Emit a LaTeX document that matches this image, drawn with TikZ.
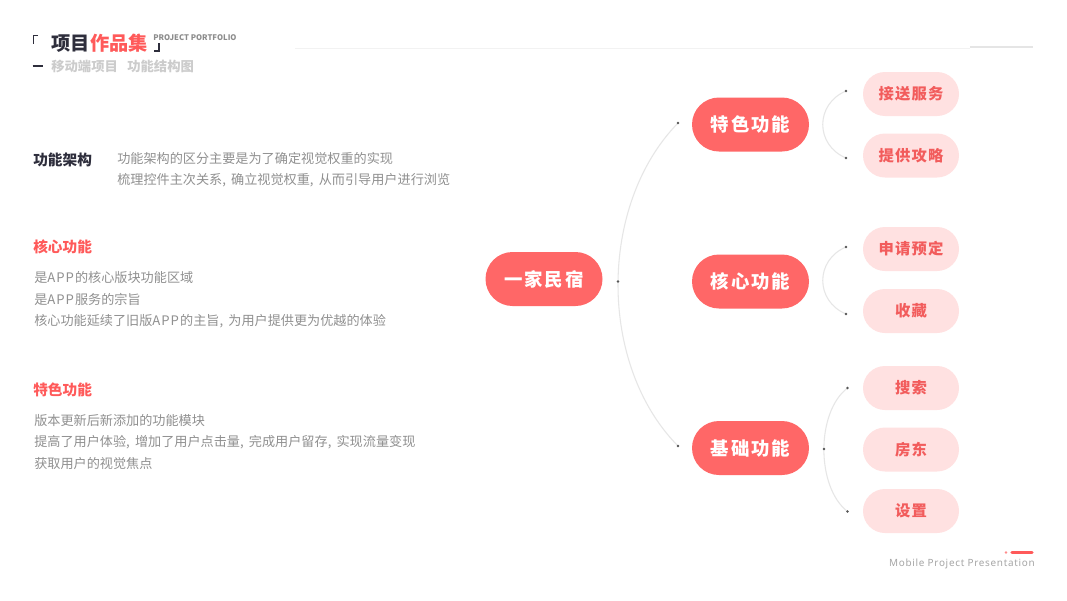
\documentclass[tikz,border=0pt]{standalone}
\usepackage{fontspec}
\setmainfont{Noto Sans CJK SC}
\newfontfamily\cjkls{Noto Sans CJK SC}[LetterSpace=10]
\newfontfamily\cjklss{Noto Sans CJK SC}[LetterSpace=8]
\newfontfamily\latinls{Noto Sans}[LetterSpace=7]
\newcommand\sepc{,\hspace{3.9pt}}
\newcommand\appw{A\kern0.7pt P\kern0.7pt P\kern0.9pt}
\definecolor{mainred}{HTML}{FF6767}
\definecolor{pinkfill}{HTML}{FFE1E1}
\definecolor{pinktext}{HTML}{F25C5C}
\definecolor{titledark}{HTML}{2E2E3C}
\definecolor{bodygrey}{HTML}{909090}
\definecolor{subgrey}{HTML}{CCCCCC}
\definecolor{arcgrey}{HTML}{E6E6E6}
\definecolor{dotgrey}{HTML}{555555}
\definecolor{headred}{HTML}{FF5A5A}
\tikzset{
  rootpill/.style={fill=mainred, text=white, inner sep=0pt,
    minimum width=117*0.75pt, minimum height=54*0.75pt, rounded corners=27*0.75pt,
    font=\cjkls\bfseries\fontsize{13.8pt}{15pt}\selectfont},
  lvlpill/.style={rootpill},
  subpill/.style={fill=pinkfill, text=pinktext, inner sep=0pt,
    minimum width=96*0.75pt, minimum height=44*0.75pt, rounded corners=22*0.75pt,
    font=\cjklss\bfseries\fontsize{11.5pt}{13pt}\selectfont},
  arcline/.style={draw=arcgrey, line width=0.8pt},
  dotmark/.style={circle, fill=dotgrey, inner sep=0pt, minimum size=2.2pt},
  bodytext/.style={anchor=west, inner sep=0pt, text=bodygrey, font=\fontsize{9.85pt}{11pt}\selectfont},
  headtext/.style={anchor=west, inner sep=0pt, font=\bfseries\fontsize{11pt}{12pt}\selectfont},
}
\begin{document}
\begin{tikzpicture}[x=0.75pt, y=-0.75pt]
\useasboundingbox (0,0) rectangle (1067,600);
\fill[white] (0,0) rectangle (1067,600);

% top line
\coordinate (tl1) at (295,48);
\coordinate (tl2) at (970,48);
\coordinate (tl3) at (1033,47);
\draw[draw=black!5, line width=0.6pt] (tl1) -- (tl2);
\draw[draw=black!10, line width=1.2pt] (tl2 |- tl3) -- (tl3);

% title brackets
\coordinate (b1a) at (38,35.5);
\coordinate (b1b) at (33.5,35.5);
\coordinate (b1c) at (33.5,44);
\draw[titledark, line width=1.3pt] (b1a) -- (b1b) -- (b1c);
\coordinate (b2a) at (159,43);
\coordinate (b2b) at (159,51);
\coordinate (b2c) at (153.5,51);
\draw[titledark, line width=1.3pt] (b2a) -- (b2b) -- (b2c);
\coordinate (dsa) at (32.5,66);
\coordinate (dsb) at (43,66);
\draw[titledark, line width=1.6pt] (dsa) -- (dsb);

\node[anchor=west, inner sep=0pt, font=\bfseries\fontsize{14.4pt}{15pt}\selectfont] (title) at (51.5,43.5)
  {\textcolor{titledark}{项目}\textcolor{headred}{作品集}};
\node[anchor=west, inner sep=0pt, text=black!45, font=\bfseries\fontsize{5.8pt}{6pt}\selectfont] (portfolio) at (153,37.5) {PROJECT PORTFOLIO};
\node[anchor=west, inner sep=0pt, text=subgrey, font=\bfseries\fontsize{10pt}{11pt}\selectfont] (subtitle) at (51,66)
  {移动端项目\hspace{7pt}功能结构图};

% left text
\node[headtext, text=titledark] (h1) at (33,159.5) {功能架构};
\node[bodytext] (t11) at (117,158) {功能架构的区分主要是为了确定视觉权重的实现};
\node[bodytext] (t12) at (117,180) {梳理控件主次关系\sepc 确立视觉权重\sepc 从而引导用户进行浏览};

\node[headtext, text=headred] (h2) at (33,247) {核心功能};
\node[bodytext] (t21) at (34,278) {是\appw 的核心版块功能区域};
\node[bodytext] (t22) at (34,299) {是\appw 服务的宗旨};
\node[bodytext] (t23) at (34,321) {核心功能延续了旧版\appw 的主旨\sepc 为用户提供更为优越的体验};

\node[headtext, text=headred] (h3) at (33,390) {特色功能};
\node[bodytext] (t31) at (34,421) {版本更新后新添加的功能模块};
\node[bodytext] (t32) at (34,442) {提高了用户体验\sepc 增加了用户点击量\sepc 完成用户留存\sepc 实现流量变现};
\node[bodytext] (t33) at (34,464) {获取用户的视觉焦点};

% mind map
\node[rootpill] (root) at (544,279) {一家民宿};
\node[lvlpill] (l1) at (750.5,124.5) {特色功能};
\node[lvlpill] (l2) at (750.5,281.5) {核心功能};
\node[lvlpill] (l3) at (750.5,448) {基础功能};

\node[subpill] (s11) at (911,94) {接送服务};
\node[subpill] (s12) at (911,155.5) {提供攻略};
\node[subpill] (s21) at (911,249) {申请预定};
\node[subpill] (s22) at (911,311) {收藏};
\node[subpill] (s31) at (911,388) {搜索};
\node[subpill] (s32) at (911,449.5) {房东};
\node[subpill] (s33) at (911,511) {设置};

% big arc
\coordinate (dA) at (678,123);
\coordinate (dB) at (678,446);
\coordinate (dR) at (618,281.5);
\draw[arcline] (dA) .. controls (598,205) and (598,365) .. (dB);

% sub arcs
\coordinate (d11) at (846,91);
\coordinate (d12) at (846,158);
\draw[arcline] (d11) .. controls (815,104) and (815,145) .. (d12);
\coordinate (d21) at (846,247);
\coordinate (d22) at (846,314);
\draw[arcline] (d21) .. controls (815,260) and (815,301) .. (d22);
\coordinate (d31) at (847.5,388);
\coordinate (d33) at (847.5,511.5);
\coordinate (dM) at (824,449);
\draw[arcline] (d31) .. controls (816,412) and (816,487) .. (d33);

% dots
\foreach \c in {dA,dB,dR,d11,d12,d21,d22,d31,d33,dM}{
  \node[dotmark] at (\c) {};
}

% bottom right
\coordinate (br1) at (1006,552.5);
\coordinate (br2) at (1012,552.5);
\coordinate (br3) at (1032,552.5);
\fill[headred!70] (br1) circle (1.1pt);
\draw[headred, line width=2.4pt, line cap=round] (br2) -- (br3);
\node[anchor=east, inner sep=0pt, text=black!35, font=\latinls\fontsize{7.45pt}{8pt}\selectfont] (mpp) at (1035,563.5) {Mobile Project Presentation};
\end{tikzpicture}
\end{document}
